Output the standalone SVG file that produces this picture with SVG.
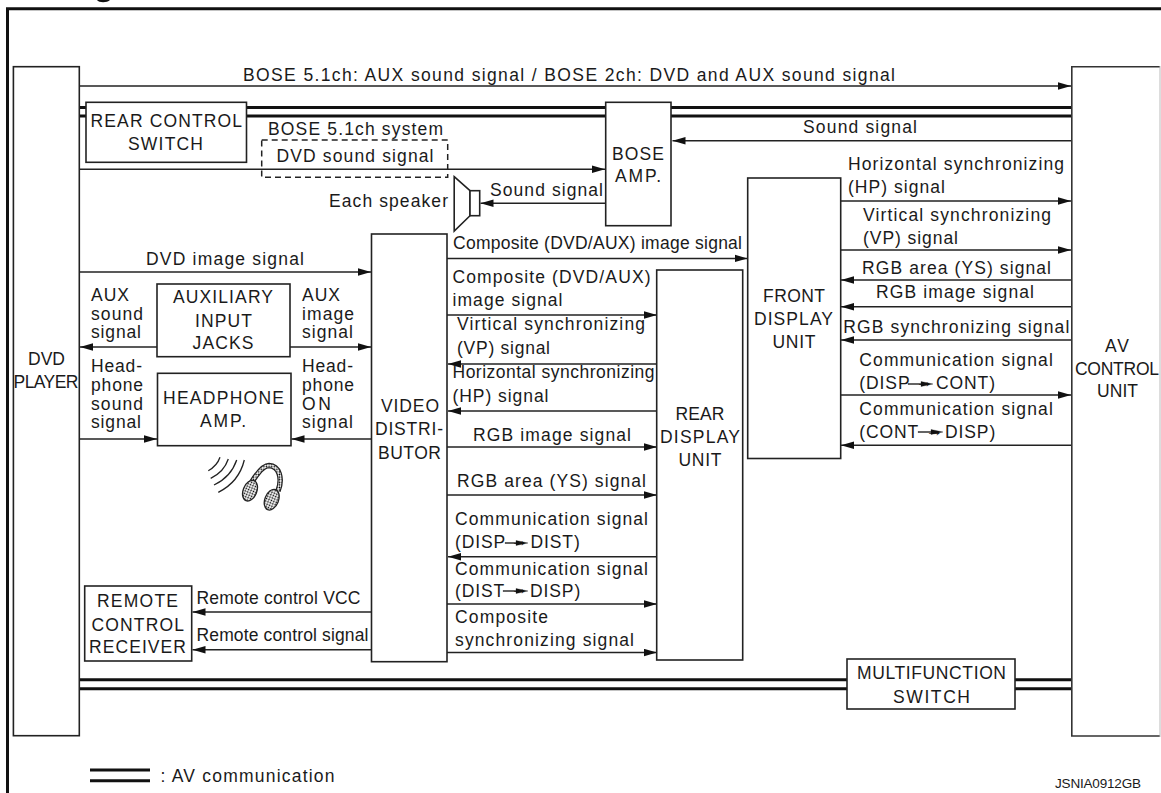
<svg xmlns="http://www.w3.org/2000/svg" width="1161" height="793" viewBox="0 0 1161 793">
<style>
text{font-family:"Liberation Sans",Arial,sans-serif;font-size:17.5px;fill:#1a1a1a}
.b{fill:#fff;stroke:#222;stroke-width:1.6}
.l{stroke:#222;stroke-width:1.5;fill:none}
.d{stroke:#111;stroke-width:3;fill:none}
.sp{letter-spacing:.9px}
</style>
<defs>
<marker id="a" markerUnits="userSpaceOnUse" markerWidth="14" markerHeight="8" refX="13" refY="4" orient="auto"><path d="M0 .3V7.700L13 4Z" fill="#111"/></marker>
<pattern id="dots" width="2.600" height="2.600" patternUnits="userSpaceOnUse"><rect width="2.600" height="2.600" fill="#fff"/><circle cx="1.300" cy="1.300" r=".85" fill="#000"/></pattern>
</defs>
<rect width="1161" height="793" fill="#fff"/>
<path d="M7.500 793V8.700H1161" fill="none" stroke="#111" stroke-width="3"/>
<path d="M97 0C99 3 107 3 110 0Z" fill="#111"/>

<g id="buses">
<path class="d" d="M79 107.600H1072M79 116H1072M79 679.700H1072M79 688.700H1072"/>
</g>

<g id="connectors">
<line class="l" x1="79" y1="86" x2="1071" y2="86" marker-end="url(#a)"/>
<line class="l" x1="79" y1="169.300" x2="605" y2="169.300" marker-end="url(#a)"/>
<line class="l" x1="1072" y1="140.700" x2="672.500" y2="140.700" marker-end="url(#a)"/>
<line class="l" x1="605" y1="203.300" x2="480.500" y2="203.300" marker-end="url(#a)"/>
<line class="l" x1="447" y1="258.400" x2="747.500" y2="258.400" marker-end="url(#a)"/>
<line class="l" x1="79" y1="272" x2="371" y2="272" marker-end="url(#a)"/>
<line class="l" x1="157" y1="347" x2="80" y2="347" marker-end="url(#a)"/>
<line class="l" x1="290" y1="347" x2="371" y2="347" marker-end="url(#a)"/>
<line class="l" x1="79" y1="439" x2="157" y2="439" marker-end="url(#a)"/>
<line class="l" x1="371" y1="439" x2="291.500" y2="439" marker-end="url(#a)"/>
<line class="l" x1="371" y1="612" x2="192.500" y2="612" marker-end="url(#a)"/>
<line class="l" x1="371" y1="649.700" x2="192.500" y2="649.700" marker-end="url(#a)"/>
<line class="l" x1="447" y1="315" x2="657" y2="315" marker-end="url(#a)"/>
<line class="l" x1="657" y1="364" x2="448" y2="364" marker-end="url(#a)"/>
<line class="l" x1="657" y1="411" x2="448" y2="411" marker-end="url(#a)"/>
<line class="l" x1="447" y1="447" x2="657" y2="447" marker-end="url(#a)"/>
<line class="l" x1="447" y1="495" x2="657" y2="495" marker-end="url(#a)"/>
<line class="l" x1="657" y1="556.700" x2="448" y2="556.700" marker-end="url(#a)"/>
<line class="l" x1="447" y1="604" x2="657" y2="604" marker-end="url(#a)"/>
<line class="l" x1="447" y1="652.500" x2="657" y2="652.500" marker-end="url(#a)"/>
<line class="l" x1="840" y1="201" x2="1071" y2="201" marker-end="url(#a)"/>
<line class="l" x1="840" y1="250" x2="1071" y2="250" marker-end="url(#a)"/>
<line class="l" x1="1072" y1="280" x2="841" y2="280" marker-end="url(#a)"/>
<line class="l" x1="1072" y1="306.700" x2="841" y2="306.700" marker-end="url(#a)"/>
<line class="l" x1="1072" y1="340" x2="841" y2="340" marker-end="url(#a)"/>
<line class="l" x1="840" y1="395" x2="1071" y2="395" marker-end="url(#a)"/>
<line class="l" x1="1072" y1="445.300" x2="841" y2="445.300" marker-end="url(#a)"/>
</g>

<g id="dvd-player"><rect class="b" x="13.400" y="66.700" width="65.900" height="669"/><text x="28" y="365" textLength="37">DVD</text><text x="13.500" y="388" textLength="65">PLAYER</text></g>
<g id="av-control-unit"><rect x="1072" y="66.700" width="88" height="669.300" fill="#fff"/><path d="M1160 66.700H1071.800V736H1160" fill="none" stroke="#333" stroke-width="1.600"/><line x1="1160" y1="66" x2="1160" y2="737" stroke="#bbb" stroke-width="1"/><text x="1105" y="352" textLength="24">AV</text><text x="1075" y="374.500" textLength="84">CONTROL</text><text x="1097" y="397" textLength="41">UNIT</text></g>
<g id="rear-control-switch"><rect class="b" x="86" y="102.300" width="160.500" height="60"/><text x="90.500" y="126.700" textLength="151.500">REAR CONTROL</text><text x="128" y="150" textLength="75">SWITCH</text></g>
<g id="bose-amp"><rect class="b" x="605.700" y="102.300" width="65.300" height="123.400"/><text x="612" y="159.500" textLength="52">BOSE</text><text x="615" y="182" textLength="46">AMP.</text></g>
<g id="bose-system"><rect x="261.700" y="140" width="186" height="37.300" fill="none" stroke="#222" stroke-width="1.500" stroke-dasharray="6 4"/><text x="268" y="135" textLength="175">BOSE 5.1ch system</text><text x="276.500" y="161.500" textLength="157">DVD sound signal</text></g>
<g id="speaker"><path class="b" d="M454.200 176.700L470 190.700V215.700L454.200 231Z"/><rect class="b" x="470" y="190.700" width="9.700" height="25"/></g>
<g id="front-display-unit"><rect class="b" x="747.700" y="178" width="93" height="280.500"/><text x="763" y="301.500" textLength="62">FRONT</text><text x="754" y="324.500" textLength="79">DISPLAY</text><text x="772.500" y="347.500" textLength="43">UNIT</text></g>
<g id="video-distributor"><rect class="b" x="371.500" y="234" width="75.500" height="427.700"/><text x="381" y="411.500" textLength="58">VIDEO</text><text x="375" y="434.500" textLength="68">DISTRI-</text><text x="378" y="458.500" textLength="63">BUTOR</text></g>
<g id="rear-display-unit"><rect class="b" x="656.700" y="270" width="86" height="390"/><text x="675.500" y="419.500" textLength="49">REAR</text><text x="660" y="442.500" textLength="80">DISPLAY</text><text x="678.500" y="465.500" textLength="43">UNIT</text></g>
<g id="auxiliary-input-jacks"><rect class="b" x="157" y="284" width="133" height="72.700"/><text x="173" y="303" textLength="100">AUXILIARY</text><text x="195" y="327" textLength="57">INPUT</text><text x="192.500" y="349" textLength="61">JACKS</text></g>
<g id="headphone-amp"><rect class="b" x="157.500" y="373.300" width="133.500" height="72.400"/><text x="163" y="404" textLength="121">HEADPHONE</text><text x="200" y="427" textLength="46">AMP.</text></g>
<g id="remote-control-receiver"><rect class="b" x="84.700" y="586" width="107" height="75"/><text x="97" y="607.300" textLength="81">REMOTE</text><text x="91.500" y="630.700" textLength="92.500">CONTROL</text><text x="89" y="653.300" textLength="97">RECEIVER</text></g>
<g id="multifunction-switch"><rect class="b" x="847" y="659" width="168" height="50"/><text x="857" y="679" textLength="149">MULTIFUNCTION</text><text x="893" y="703" textLength="77">SWITCH</text></g>
<g id="headphones" fill="none" stroke="#222" stroke-width="1.300">
<path d="M220 457.300Q217 466 208.300 470.700M228.300 459Q224 472 210.700 478.300M236.700 460Q231 477 214 485M244.300 460Q239 482 218.300 492.300"/>
<path d="M251.700 482.300C258 472 264 465.500 269 465.500C279 466 283 478 278 491" stroke-width="5.500"/>
<path d="M251.700 482.300C258 472 264 465.500 269 465.500C279 466 283 478 278 491" stroke="url(#dots)" stroke-width="3"/>
<ellipse cx="250" cy="490.700" rx="6.800" ry="10.800" transform="rotate(22 250 490.700)" fill="url(#dots)"/>
<ellipse cx="271.700" cy="499.700" rx="6.800" ry="10.800" transform="rotate(22 271.700 499.700)" fill="url(#dots)"/>
</g>

<g id="labels">
<text x="243" y="80.700" textLength="652">BOSE 5.1ch: AUX sound signal / BOSE 2ch: DVD and AUX sound signal</text>
<text x="803" y="133" textLength="114">Sound signal</text>
<text x="490" y="195.700" textLength="113">Sound signal</text>
<text x="329" y="207" textLength="119">Each speaker</text>
<text x="453" y="249" textLength="289">Composite (DVD/AUX) image signal</text>
<text x="146" y="265" textLength="158">DVD image signal</text>
<text x="91" y="301" textLength="38">AUX</text><text x="91" y="320" textLength="52">sound</text><text x="91" y="338" textLength="50">signal</text>
<text x="302" y="301" textLength="38">AUX</text><text x="302" y="320" textLength="52">image</text><text x="302" y="338" textLength="51">signal</text>
<text x="91" y="371.700" textLength="51">Head-</text><text x="91" y="390.700" textLength="52">phone</text><text x="91" y="410" textLength="52">sound</text><text x="91" y="428" textLength="50">signal</text>
<text x="302" y="371.700" textLength="51">Head-</text><text x="302" y="390.700" textLength="52">phone</text><text x="302" y="410" textLength="29">ON</text><text x="302" y="428" textLength="51">signal</text>
<text x="196.500" y="604.300" textLength="164">Remote control VCC</text>
<text x="196.500" y="640.700" textLength="172">Remote control signal</text>
<text x="452.500" y="283" textLength="198">Composite (DVD/AUX)</text><text x="452.500" y="306" textLength="110">image signal</text>
<text x="457" y="330" textLength="188">Virtical synchronizing</text><text x="457" y="354" textLength="93">(VP) signal</text>
<text x="452.500" y="378" textLength="202">Horizontal synchronizing</text><text x="452.500" y="402" textLength="96">(HP) signal</text>
<text x="473" y="441" textLength="158">RGB image signal</text>
<text x="457" y="487" textLength="189">RGB area (YS) signal</text>
<text x="455" y="525" textLength="193">Communication signal</text>
<text x="455" y="548.300" class="sp">(DISP<tspan x="510.500" dy="-2">→</tspan><tspan x="530.500" dy="2">DIST)</tspan></text>
<text x="455" y="575" textLength="193">Communication signal</text>
<text x="455" y="597" class="sp">(DIST<tspan x="510.500" dy="-2.600">→</tspan><tspan x="530" dy="2.600">DISP)</tspan></text>
<text x="455" y="622.700" textLength="93">Composite</text><text x="455" y="645.500" textLength="179">synchronizing signal</text>
<text x="848" y="170" textLength="216">Horizontal synchronizing</text><text x="848" y="193" textLength="97">(HP) signal</text>
<text x="863" y="221" textLength="188">Virtical synchronizing</text><text x="863" y="244" textLength="95">(VP) signal</text>
<text x="862" y="274" textLength="189">RGB area (YS) signal</text>
<text x="876" y="298" textLength="158">RGB image signal</text>
<text x="843.300" y="332.700" textLength="226">RGB synchronizing signal</text>
<text x="859.300" y="366" textLength="193.500">Communication signal</text>
<text x="859.300" y="389.300" class="sp">(DISP<tspan x="915.500" dy="-2">→</tspan><tspan x="936" dy="2">CONT)</tspan></text>
<text x="859.300" y="415" textLength="193.500">Communication signal</text>
<text x="859.300" y="438.300" class="sp">(CONT<tspan x="925.500" dy="-2">→</tspan><tspan x="945" dy="2">DISP)</tspan></text>
<path fill="#111" stroke="#111" stroke-width=".3" d="M505 542.500H516V540.500L528 543L516 545.500V543.500H505ZM503 590.500H516V588.500L528 591L516 593.500V591.500H503ZM908 383.500H921V381.500L933 384L921 386.500V384.500H908ZM918 431.500H931V429.500L943 432L931 434.500V432.500H918Z"/>
</g>

<g id="legend">
<path class="d" d="M90 770H150M90 780.700H150"/>
<text x="160.500" y="781.700" textLength="174">: AV communication</text>
<text x="1055" y="788" style="font-size:13.500px" textLength="86">JSNIA0912GB</text>
</g>
</svg>
